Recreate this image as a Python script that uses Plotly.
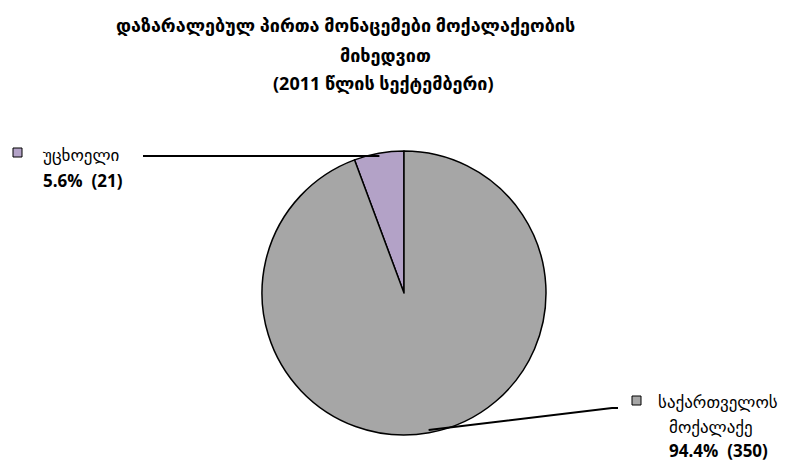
import math
import plotly.graph_objects as go

# data
labels = ["უცხოელი", "საქართველოს მოქალაქე"]
counts = [21, 350]
percents = ["5.6%", "94.4%"]
colors = ["#B3A2C7", "#A6A6A6"]

W, H = 791, 468
cx, cy, r = 404, 293, 142   # pie centre / radius in pixels


def px(x):
    return x / W


def py(y):
    return 1 - y / H


fig = go.Figure()
fig.add_trace(go.Pie(
    labels=labels,
    values=counts,
    marker=dict(colors=colors, line=dict(color="black", width=1.5)),
    sort=False,
    direction="clockwise",
    rotation=-360 * counts[0] / sum(counts),
    textinfo="none",
    hoverinfo="label+value+percent",
    showlegend=False,
    domain=dict(x=[px(cx - r), px(cx + r)], y=[py(cy + r), py(cy - r)]),
))

# leader lines from slice mid-angles to the label positions
total = sum(counts)
label_ends = [[(143, 156)], [(612, 408), (618, 408)]]
start = 0
for i, v in enumerate(counts):
    mid = (start + v / 2) / total * 2 * math.pi
    start += v
    x0 = cx - r * 0.98 * math.sin(mid)
    y0 = cy - r * 0.98 * math.cos(mid)
    pts = [(x0, y0)] + label_ends[i]
    path = "M " + " L ".join(f"{px(a)},{py(b)}" for a, b in pts)
    fig.add_shape(type="path", path=path, xref="paper", yref="paper",
                  line=dict(color="black", width=2))

font = "Open Sans, DejaVu Sans"

# legend keys
keys = [(13, 148), (632, 396)]
for (kx, ky), c in zip(keys, colors):
    fig.add_shape(type="rect", xref="paper", yref="paper",
                  x0=px(kx), x1=px(kx + 9), y0=py(ky + 9), y1=py(ky),
                  fillcolor=c, line=dict(color="black", width=1))

ann = [
    ("უცხოელი", 81, 155, False),
    (f"{percents[0]}  ({counts[0]})", 83, 181, True),
    ("საქართველოს", 718, 401, False),
    ("მოქალაქე", 711, 426, False),
    (f"{percents[1]}  ({counts[1]})", 718, 450, True),
]
for t, x, y, b in ann:
    fig.add_annotation(text=f"<b>{t}</b>" if b else t, x=px(x), y=py(y),
                       xref="paper", yref="paper", showarrow=False,
                       xanchor="center", yanchor="middle",
                       font=dict(family=font, size=17, color="black"))

title_lines = [
    ("დაზარალებულ პირთა მონაცემები მოქალაქეობის", 345, 25),
    ("მიხედვით", 385, 55),
    ("(2011 წლის სექტემბერი)", 383, 83),
]
for t, x, y in title_lines:
    fig.add_annotation(text=f"<b>{t}</b>", x=px(x), y=py(y),
                       xref="paper", yref="paper", showarrow=False,
                       xanchor="center", yanchor="middle",
                       font=dict(family=font, size=18, color="black"))

fig.update_layout(
    width=W, height=H,
    margin=dict(l=0, r=0, t=0, b=0),
    paper_bgcolor="white",
    plot_bgcolor="white",
)

fig.write_html("out.html", config={"displayModeBar": False},
               post_script="document.body.style.margin='0';")
